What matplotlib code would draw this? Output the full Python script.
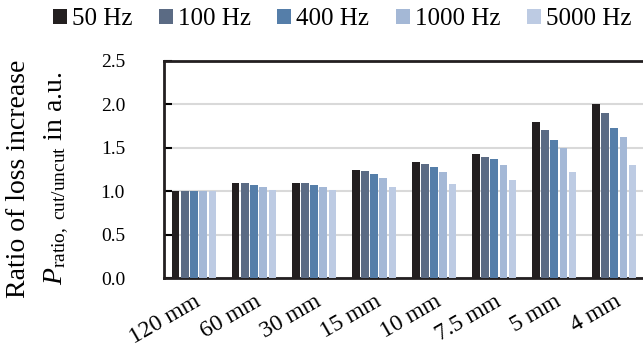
"""Loss-increase ratio per cut width, grouped by frequency."""
import numpy as np
import matplotlib
matplotlib.use("Agg")
import matplotlib.pyplot as plt

plt.rcParams["font.family"] = ["Liberation Serif", "DejaVu Serif"]
plt.rcParams["mathtext.fontset"] = "custom"
plt.rcParams["mathtext.rm"] = "Liberation Serif"
plt.rcParams["mathtext.it"] = "Liberation Serif:italic"

widths = ["120 mm", "60 mm", "30 mm", "15 mm", "10 mm", "7.5 mm", "5 mm", "4 mm"]
freqs = ["50 Hz", "100 Hz", "400 Hz", "1000 Hz", "5000 Hz"]

# ratio per width, one list per frequency
r_50 = [1.00, 1.10, 1.10, 1.25, 1.34, 1.43, 1.80, 2.00]
r_100 = [1.00, 1.10, 1.10, 1.23, 1.31, 1.40, 1.71, 1.90]
r_400 = [1.00, 1.07, 1.07, 1.20, 1.28, 1.37, 1.59, 1.73]
r_1000 = [1.00, 1.05, 1.05, 1.15, 1.22, 1.30, 1.50, 1.63]
r_5000 = [1.00, 1.02, 1.02, 1.05, 1.08, 1.13, 1.22, 1.30]
series = [r_50, r_100, r_400, r_1000, r_5000]
colors = ["#231f20", "#5b6b84", "#557ea9", "#a4b8d6", "#bdcbe3"]

fig = plt.figure(figsize=(6.43, 3.56), dpi=100)
ax = fig.add_axes([0.255, 0.218, 0.747, 0.611])

x = np.arange(len(widths))
step = 0.153
for i, (vals, c, lab) in enumerate(zip(series, colors, freqs)):
    ax.bar(x + (i - 2) * step, vals, width=0.128, color=c, label=lab, zorder=3)

ax.set_xlim(-0.5, len(widths) - 0.5)
ax.set_ylim(0, 2.5)
yt = np.arange(0, 2.51, 0.5)
ax.set_yticks(yt)
ax.set_yticklabels([f"{v:.1f}" for v in yt], fontsize=14)
ax.yaxis.grid(True, color="#d9d9d9", linewidth=1.5, zorder=0)
ax.tick_params(axis="y", direction="in", length=6, width=1.5, pad=28)
ax.tick_params(axis="x", length=0, pad=9)
ax.set_xticks(x)
ax.set_xticklabels(widths, fontsize=17, rotation=30, ha="right",
                   rotation_mode="anchor", va="top")
for s in ["left", "top", "bottom"]:
    ax.spines[s].set_linewidth(2)
    ax.spines[s].set_color("#231f20")
ax.spines["right"].set_visible(False)

fig.text(18.5 / 643, 1 - 178.5 / 356, "Ratio of loss increase", rotation=90,
         ha="center", va="center", fontsize=20)
fig.text(57 / 643, 1 - 178.5 / 356, r"$P_{\mathrm{ratio,\ cut/uncut}}$ in a.u.",
         rotation=90, ha="center", va="center", fontsize=20)

fig.legend(loc="center", bbox_to_anchor=(342 / 643, 1 - 19 / 356), ncol=5,
           frameon=False, fontsize=18, handlelength=0.55, handleheight=0.55,
           handletextpad=0.21, columnspacing=1.06, borderpad=0, borderaxespad=0)

fig.savefig("out.png", dpi=100)
